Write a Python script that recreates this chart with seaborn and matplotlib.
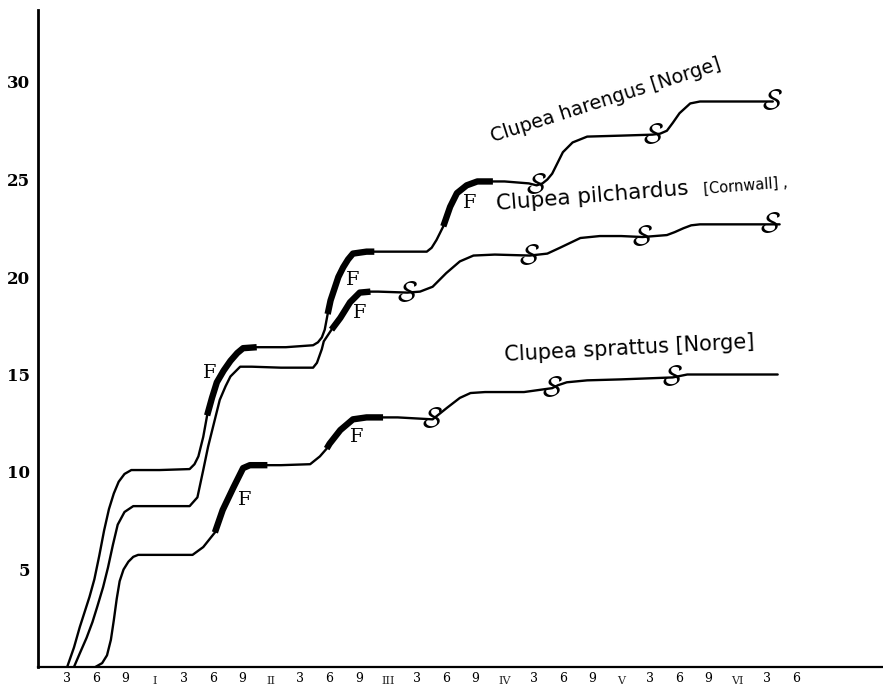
import numpy as np
import pandas as pd
import matplotlib
matplotlib.use("Agg")
import matplotlib.pyplot as plt
import seaborn as sns

# ---------------- data (months after hatching, length in cm) ----------------
harengus_month = [3.0, 3.7, 4.3, 5.3, 5.8, 6.3, 6.8, 7.3, 7.8, 8.3, 8.9, 9.6, 12.5, 15.6,
                  16.1, 16.5, 17.0, 17.4, 17.9, 18.4, 19.1, 19.8, 20.5, 21.1, 22.5, 25.5,
                  28.3, 28.8, 29.2, 29.5, 29.8, 30.1, 30.5, 30.9, 31.4, 31.9, 32.4, 33.8,
                  34.6, 37.0, 40.0, 40.5, 41.0, 41.7, 42.4, 43.1, 44.1, 45.2, 46.8, 48.0,
                  50.5, 51.3, 51.9, 52.4, 52.9, 53.5, 54.0, 55.0, 56.5, 60.0, 63.2, 64.0,
                  64.7, 65.3, 66.0, 67.1, 68.1, 72.0, 75.6]
harengus_length = [0.0, 1.0, 2.05, 3.6, 4.5, 5.7, 7.0, 8.1, 8.9, 9.5, 9.9, 10.1, 10.1, 10.15,
                   10.4, 10.8, 11.8, 12.9, 13.8, 14.6, 15.2, 15.7, 16.1, 16.35, 16.4, 16.4,
                   16.5, 16.65, 16.9, 17.3, 18.1, 18.8, 19.4, 20.0, 20.5, 20.9, 21.2, 21.3,
                   21.3, 21.3, 21.3, 21.5, 21.9, 22.6, 23.6, 24.3, 24.7, 24.9, 24.9, 24.9,
                   24.8, 24.7, 24.8, 25.0, 25.3, 25.9, 26.4, 26.9, 27.2, 27.25, 27.3, 27.35,
                   27.5, 27.9, 28.4, 28.9, 29.0, 29.0, 29.0]

pilchardus_month = [3.7, 4.3, 5.0, 5.6, 6.1, 6.7, 7.2, 7.7, 8.2, 8.9, 9.8, 12.5, 15.6, 16.4,
                    17.0, 17.5, 18.0, 18.7, 19.3, 19.8, 20.8, 22.0, 25.0, 28.3, 28.7, 29.2,
                    29.4, 30.2, 31.1, 32.1, 33.1, 34.2, 35.0, 38.0, 39.3, 40.6, 42.0, 43.4,
                    44.8, 47.0, 50.6, 52.4, 53.7, 55.8, 57.8, 60.0, 62.2, 64.7, 65.5, 66.4,
                    67.2, 68.1, 72.0, 76.3]
pilchardus_length = [0.0, 0.7, 1.5, 2.3, 3.1, 4.1, 5.1, 6.25, 7.3, 7.95, 8.25, 8.25, 8.25, 8.7,
                     10.1, 11.3, 12.3, 13.7, 14.4, 14.9, 15.4, 15.4, 15.35, 15.35, 15.6, 16.3,
                     16.7, 17.3, 17.9, 18.7, 19.2, 19.25, 19.25, 19.2, 19.25, 19.5, 20.2, 20.8,
                     21.1, 21.15, 21.1, 21.2, 21.5, 22.0, 22.1, 22.1, 22.05, 22.15, 22.3, 22.5,
                     22.65, 22.7, 22.7, 22.7]

sprattus_month = [5.9, 6.6, 7.1, 7.5, 7.8, 8.1, 8.4, 8.8, 9.3, 9.8, 10.3, 13.0, 15.9, 17.0,
                  18.2, 19.0, 20.1, 21.1, 21.8, 23.6, 25.0, 28.0, 29.0, 29.7, 30.0, 31.1,
                  32.4, 33.8, 35.5, 37.0, 40.6, 42.1, 43.4, 44.5, 46.0, 50.0, 52.9, 53.5,
                  54.4, 56.5, 60.0, 65.3, 66.8, 70.0, 76.1]
sprattus_length = [0.0, 0.2, 0.6, 1.4, 2.4, 3.5, 4.4, 5.0, 5.4, 5.65, 5.75, 5.75, 5.75, 6.15,
                   6.9, 8.05, 9.2, 10.2, 10.35, 10.35, 10.35, 10.4, 10.8, 11.2, 11.45, 12.15,
                   12.7, 12.8, 12.8, 12.8, 12.7, 13.3, 13.8, 14.05, 14.1, 14.1, 14.3, 14.45,
                   14.6, 14.7, 14.75, 14.85, 15.0, 15.0, 15.0]

species = ["harengus", "pilchardus", "sprattus"]

# fat periods (F) : month ranges drawn thick
fat_periods = {
    "harengus": [(17.4, 22.5), (29.8, 34.6), (41.7, 46.8)],
    "pilchardus": [(30.2, 34.2)],
    "sprattus": [(18.2, 23.6), (29.7, 35.5)],
}
# F labels (month, length)
f_month = [17.7, 32.4, 44.4, 33.1, 21.3, 32.8]
f_length = [15.1, 19.85, 23.8, 18.15, 8.55, 11.8]

# spawning marks (month, length)
s_month = [51.3, 63.3, 75.6, 38.0, 50.6, 62.2, 75.3, 40.6, 52.9, 65.3]
s_length = [24.7, 27.3, 29.0, 19.2, 21.1, 22.05, 22.7, 12.7, 14.3, 14.85]

x_ticks = list(range(3, 79, 3))
year_ticks = [12, 24, 36, 48, 60, 72]
year_labels = ["I", "II", "III", "IV", "V", "VI"]
y_ticks = [5, 10, 15, 20, 25, 30]

# ---------------- figure ----------------
sns.set_theme(style="white")
plt.rcParams['font.family'] = ['DejaVu Sans']

W, H = 883, 688
fig = plt.figure(figsize=(W / 100, H / 100), dpi=100)
fig.patch.set_facecolor("white")
ax = fig.add_axes([38 / W, 21 / H, 845 / W, 657 / H])
ax.set_facecolor("white")

df = pd.concat([
    pd.DataFrame({"month": harengus_month, "length": harengus_length, "species": "harengus"}),
    pd.DataFrame({"month": pilchardus_month, "length": pilchardus_length, "species": "pilchardus"}),
    pd.DataFrame({"month": sprattus_month, "length": sprattus_length, "species": "sprattus"}),
], ignore_index=True)

sns.lineplot(data=df, x="month", y="length", hue="species", palette=["black"] * 3,
             estimator=None, sort=False, linewidth=1.7, legend=False, ax=ax)

for sp, ranges in fat_periods.items():
    for a, b in ranges:
        sub = df[(df.species == sp) & (df.month >= a) & (df.month <= b)]
        sns.lineplot(data=sub, x="month", y="length", color="black", linewidth=4.6,
                     estimator=None, sort=False, legend=False, ax=ax,
                     solid_capstyle="butt")

for m, v in zip(f_month, f_length):
    ax.text(m, v, "F", fontsize=14, family="DejaVu Serif", ha="center", va="center",
            color="black")

for m, v in zip(s_month, s_length):
    ax.text(m, v, r"$\mathcal{S}$", fontsize=21, ha="center", va="center",
            math_fontfamily="cm", color="black")

ax.set_xlim(0, 845 / 9.72)
ax.set_ylim(0, 657 / 19.5)


def px(x, y):
    return (x - 38) / 9.72, (667 - y) / 19.5


# species labels
lab_font = dict(family="DejaVu Sans", color="black", rotation_mode="anchor",
                ha="left", va="baseline")
x0, y0 = px(493, 142)
ax.text(x0, y0, "Clupea harengus [Norge]", fontsize=13.8, rotation=17.7, **lab_font)
x0, y0 = px(497, 210)
ax.text(x0, y0, "Clupea pilchardus", fontsize=15.5, rotation=4.6, **lab_font)
x0, y0 = px(704, 194)
ax.text(x0, y0, "[Cornwall] ,", fontsize=10.5, rotation=4.6, **lab_font)
x0, y0 = px(505, 361)
ax.text(x0, y0, "Clupea sprattus [Norge]", fontsize=15, rotation=3, **lab_font)

# axes styling
for s in ["top", "right"]:
    ax.spines[s].set_visible(False)
ax.spines["left"].set_linewidth(2.0)
ax.spines["bottom"].set_linewidth(1.6)
ax.spines["left"].set_color("black")
ax.spines["bottom"].set_color("black")
ax.grid(False)

ax.set_xticks(x_ticks)
ax.set_xticklabels([str(t % 12) if t % 12 else "" for t in x_ticks],
                   family="DejaVu Serif", fontsize=9)
ax.set_xticks(year_ticks, minor=True)
ax.tick_params(axis="x", which="major", direction="inout", length=5, width=1.2,
               pad=1, colors="black")
ax.tick_params(axis="x", which="minor", direction="inout", length=16, width=1.3,
               colors="black")

ax.set_yticks(y_ticks)
ax.set_yticklabels([str(t) for t in y_ticks], family="DejaVu Serif",
                   fontweight="bold", fontsize=12)
ax.tick_params(axis="y", which="major", direction="out", length=5, width=1.3,
               pad=1, colors="black")

trans = ax.get_xaxis_transform()
for t, lab in zip(year_ticks, year_labels):
    ax.text(t, -19.5 / 657, lab, transform=trans, ha="center", va="bottom",
            family="DejaVu Serif", fontsize=8, clip_on=False)

ax.set_xlabel("")
ax.set_ylabel("")

fig.savefig("out.png", dpi=100, facecolor="white")
